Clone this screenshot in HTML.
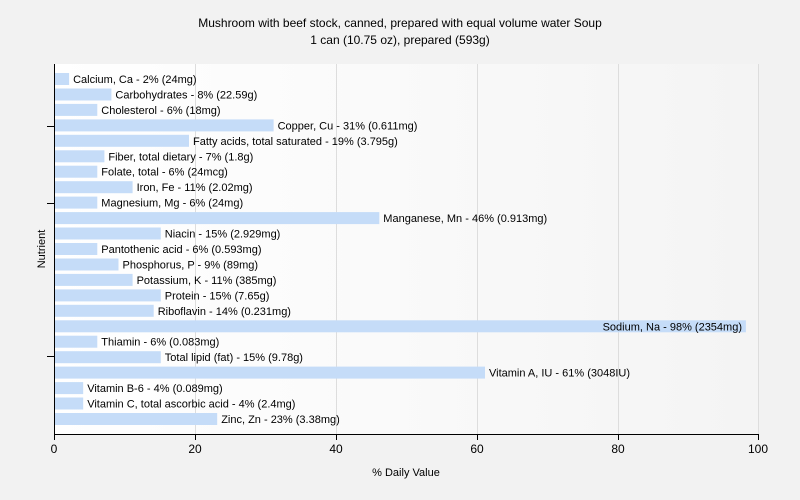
<!DOCTYPE html>
<html><head><meta charset="utf-8"><style>body{margin:0;background:#f2f2f2}svg{display:block;font-family:"Liberation Sans",sans-serif}</style></head>
<body>
<svg width="800" height="500" viewBox="0 0 800 500">
<defs><linearGradient id="g" x1="0" x2="1" y1="0" y2="0"><stop offset="0" stop-color="#ffffff"/><stop offset="1" stop-color="#f4f4f4"/></linearGradient></defs>
<rect width="800" height="500" fill="#f2f2f2"/>
<rect x="54" y="64" width="705" height="370" fill="url(#g)"/>
<g stroke="#dddddd" stroke-width="1">
<line x1="195.5" y1="64" x2="195.5" y2="434"/><line x1="336.5" y1="64" x2="336.5" y2="434"/><line x1="477.5" y1="64" x2="477.5" y2="434"/><line x1="618.5" y1="64" x2="618.5" y2="434"/><line x1="758.5" y1="64" x2="758.5" y2="434"/>
</g>
<text x="400" y="27" font-size="12" text-anchor="middle" fill="#000">Mushroom with beef stock, canned, prepared with equal volume water Soup</text>
<text x="400" y="44" font-size="12" text-anchor="middle" fill="#000">1 can (10.75 oz), prepared (593g)</text>
<g fill="#c5dcf8">
<rect x="55" y="73" width="14.1" height="12"/>
<rect x="55" y="88.5" width="56.4" height="12"/>
<rect x="55" y="103.9" width="42.3" height="12"/>
<rect x="55" y="119.4" width="218.6" height="12"/>
<rect x="55" y="134.8" width="134" height="12"/>
<rect x="55" y="150.3" width="49.4" height="12"/>
<rect x="55" y="165.7" width="42.3" height="12"/>
<rect x="55" y="181.2" width="77.6" height="12"/>
<rect x="55" y="196.6" width="42.3" height="12"/>
<rect x="55" y="212.1" width="324.3" height="12"/>
<rect x="55" y="227.5" width="105.8" height="12"/>
<rect x="55" y="243" width="42.3" height="12"/>
<rect x="55" y="258.5" width="63.5" height="12"/>
<rect x="55" y="273.9" width="77.6" height="12"/>
<rect x="55" y="289.4" width="105.8" height="12"/>
<rect x="55" y="304.8" width="98.7" height="12"/>
<rect x="55" y="320.3" width="690.9" height="12"/>
<rect x="55" y="335.7" width="42.3" height="12"/>
<rect x="55" y="351.2" width="105.8" height="12"/>
<rect x="55" y="366.6" width="430" height="12"/>
<rect x="55" y="382.1" width="28.2" height="12"/>
<rect x="55" y="397.5" width="28.2" height="12"/>
<rect x="55" y="413" width="162.2" height="12"/>
</g>
<g font-size="11" fill="#000">
<text x="73.1" y="83">Calcium, Ca - 2% (24mg)</text>
<text x="115.4" y="98.5">Carbohydrates - 8% (22.59g)</text>
<text x="101.3" y="113.9">Cholesterol - 6% (18mg)</text>
<text x="277.6" y="129.4">Copper, Cu - 31% (0.611mg)</text>
<text x="193" y="144.8">Fatty acids, total saturated - 19% (3.795g)</text>
<text x="108.4" y="160.3">Fiber, total dietary - 7% (1.8g)</text>
<text x="101.3" y="175.7">Folate, total - 6% (24mcg)</text>
<text x="136.6" y="191.2">Iron, Fe - 11% (2.02mg)</text>
<text x="101.3" y="206.6">Magnesium, Mg - 6% (24mg)</text>
<text x="383.3" y="222.1">Manganese, Mn - 46% (0.913mg)</text>
<text x="164.8" y="237.5">Niacin - 15% (2.929mg)</text>
<text x="101.3" y="253">Pantothenic acid - 6% (0.593mg)</text>
<text x="122.5" y="268.5">Phosphorus, P - 9% (89mg)</text>
<text x="136.6" y="283.9">Potassium, K - 11% (385mg)</text>
<text x="164.8" y="299.4">Protein - 15% (7.65g)</text>
<text x="157.7" y="314.8">Riboflavin - 14% (0.231mg)</text>
<text x="742" y="330.3" text-anchor="end">Sodium, Na - 98% (2354mg)</text>
<text x="101.3" y="345.7">Thiamin - 6% (0.083mg)</text>
<text x="164.8" y="361.2">Total lipid (fat) - 15% (9.78g)</text>
<text x="489" y="376.6">Vitamin A, IU - 61% (3048IU)</text>
<text x="87.2" y="392.1">Vitamin B-6 - 4% (0.089mg)</text>
<text x="87.2" y="407.5">Vitamin C, total ascorbic acid - 4% (2.4mg)</text>
<text x="221.2" y="423">Zinc, Zn - 23% (3.38mg)</text>
</g>
<g stroke="#000" stroke-width="1">
<line x1="54.5" y1="64" x2="54.5" y2="434"/><line x1="54" y1="434.5" x2="759" y2="434.5"/>
<line x1="47" y1="126.5" x2="54" y2="126.5"/><line x1="47" y1="203.5" x2="54" y2="203.5"/><line x1="47" y1="356.5" x2="54" y2="356.5"/>
<line x1="54.5" y1="434" x2="54.5" y2="440"/><line x1="195.5" y1="434" x2="195.5" y2="440"/><line x1="336.5" y1="434" x2="336.5" y2="440"/><line x1="477.5" y1="434" x2="477.5" y2="440"/><line x1="618.5" y1="434" x2="618.5" y2="440"/><line x1="758.5" y1="434" x2="758.5" y2="440"/>
</g>
<g font-size="12" text-anchor="middle" fill="#000">
<text x="54" y="453">0</text><text x="195" y="453">20</text><text x="336" y="453">40</text><text x="477" y="453">60</text><text x="618" y="453">80</text><text x="758" y="453">100</text>
</g>
<text x="406" y="476" font-size="11" text-anchor="middle">% Daily Value</text>
<text transform="translate(45,249) rotate(-90)" font-size="11" text-anchor="middle">Nutrient</text>
</svg>
</body></html>
